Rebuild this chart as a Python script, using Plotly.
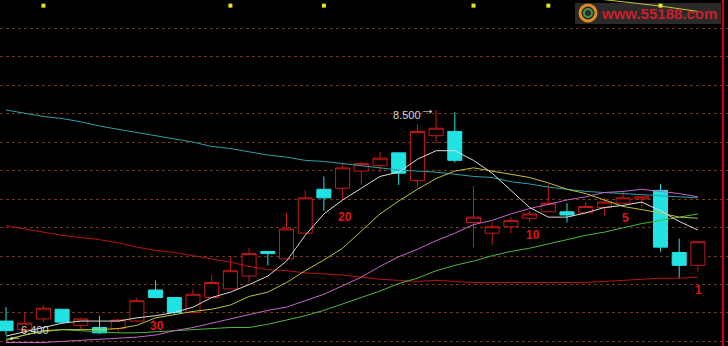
import plotly.graph_objects as go

# ---------------- data ----------------
idx = list(range(1, 39))  # 38 trading days, oldest -> newest

open_ = [6.53, 6.45, 6.55, 6.64, 6.49, 6.47, 6.46, 6.53, 6.82, 6.75,
         6.61, 6.75, 6.83, 6.95, 7.18, 7.11, 7.35, 7.76, 7.77, 7.93,
         7.98, 8.10, 7.84, 8.26, 8.30, 7.45, 7.35, 7.41, 7.49, 7.55,
         7.55, 7.54, 7.59, 7.63, 7.67, 7.75, 7.17, 7.05]
high = [6.66, 6.61, 6.68, 6.64, 6.56, 6.58, 6.55, 6.75, 6.91, 6.75,
        6.83, 6.96, 7.13, 7.21, 7.18, 7.54, 7.75, 7.88, 8.01, 8.02,
        8.11, 8.10, 8.37, 8.50, 8.48, 7.79, 7.45, 7.50, 7.56, 7.80,
        7.63, 7.64, 7.68, 7.74, 7.69, 7.81, 7.30, 7.27]
low = [6.40, 6.42, 6.52, 6.51, 6.45, 6.41, 6.42, 6.52, 6.74, 6.59,
       6.61, 6.75, 6.83, 6.89, 7.05, 7.11, 7.34, 7.56, 7.66, 7.80,
       7.92, 7.80, 7.78, 8.19, 8.01, 7.22, 7.24, 7.35, 7.45, 7.55,
       7.45, 7.54, 7.51, 7.63, 7.59, 7.18, 6.93, 6.99]
close = [6.44, 6.51, 6.65, 6.52, 6.55, 6.42, 6.54, 6.72, 6.75, 6.61,
         6.78, 6.89, 7.00, 7.16, 7.16, 7.39, 7.68, 7.68, 7.96, 8.00,
         8.05, 7.91, 8.30, 8.33, 8.03, 7.50, 7.41, 7.47, 7.53, 7.63,
         7.52, 7.60, 7.64, 7.68, 7.69, 7.22, 7.05, 7.27]

ma5 = [6.39, 6.43, 6.47, 6.51, 6.53, 6.53, 6.53, 6.56, 6.58, 6.61,
       6.66, 6.75, 6.80, 6.87, 6.95, 7.09, 7.33, 7.53, 7.66, 7.77,
       7.88, 7.92, 8.04, 8.12, 8.12, 8.03, 7.91, 7.75, 7.59, 7.50,
       7.50, 7.54, 7.59, 7.61, 7.64, 7.56, 7.46, 7.38]
ma10 = [6.35, 6.40, 6.44, 6.45, 6.45, 6.45, 6.46, 6.49, 6.56, 6.59,
        6.62, 6.64, 6.68, 6.76, 6.80, 6.89, 7.00, 7.10, 7.21, 7.37,
        7.53, 7.65, 7.76, 7.86, 7.93, 7.96, 7.93, 7.90, 7.87, 7.82,
        7.76, 7.72, 7.66, 7.60, 7.57, 7.54, 7.50, 7.49]
ma20 = [6.33, 6.33, 6.33, 6.34, 6.35, 6.36, 6.37, 6.38, 6.40, 6.44,
        6.47, 6.51, 6.55, 6.59, 6.63, 6.66, 6.72, 6.78, 6.86, 6.94,
        7.04, 7.13, 7.20, 7.28, 7.35, 7.43, 7.47, 7.53, 7.58, 7.62,
        7.66, 7.69, 7.73, 7.74, 7.76, 7.74, 7.72, 7.69]
ma60 = [6.36, 6.40, 6.43, 6.45, 6.44, 6.43, 6.42, 6.42, 6.43, 6.44,
        6.45, 6.46, 6.47, 6.47, 6.50, 6.54, 6.58, 6.63, 6.69, 6.75,
        6.81, 6.88, 6.93, 7.00, 7.05, 7.09, 7.14, 7.18, 7.21, 7.25,
        7.29, 7.33, 7.36, 7.40, 7.44, 7.47, 7.50, 7.53]
ma120 = [8.50, 8.47, 8.44, 8.42, 8.39, 8.35, 8.32, 8.29, 8.26, 8.23,
         8.20, 8.16, 8.14, 8.11, 8.08, 8.06, 8.03, 8.02, 8.00, 7.98,
         7.96, 7.94, 7.93, 7.92, 7.90, 7.88, 7.87, 7.83, 7.81, 7.78,
         7.76, 7.74, 7.73, 7.72, 7.71, 7.70, 7.69, 7.68]
ma250 = [7.42, 7.39, 7.36, 7.33, 7.31, 7.29, 7.26, 7.22, 7.19, 7.17,
         7.14, 7.11, 7.08, 7.04, 7.01, 7.00, 6.98, 6.97, 6.96, 6.94,
         6.92, 6.91, 6.90, 6.91, 6.90, 6.89, 6.89, 6.89, 6.89, 6.89,
         6.89, 6.89, 6.90, 6.91, 6.92, 6.93, 6.93, 6.94]

# day counters written under some candles (counted back from the last day)
count_labels = ["30", "20", "10", "5", "1"]
count_idx = [9, 19, 29, 34, 38]

# signal markers in the top strip and the short yellow line up there
signal_idx = [3, 13, 18, 26, 30, 36]
top_line_idx = [33, 36, 38]
top_line_val = [9.53, 9.47, 9.42]

hi_label, lo_label = "8.500", "6.400"

# ---------------- styling ----------------
W, H = 728, 346
Y_MIN, Y_MAX = 6.2973, 9.5267
X_MIN, X_MAX = 0.679, 39.61
RED = "#c81818"
CYAN = "#22e2e2"
FONT = "Liberation Sans, Arial, sans-serif"

fig = go.Figure()

lines = [
    (ma250, "#b81414"),
    (ma120, "#2aa2aa"),
    (ma60, "#4cb83c"),
    (ma20, "#c864c8"),
    (ma10, "#c0c038"),
    (ma5, "#dcdcdc"),
]
for vals, col in lines:
    fig.add_trace(go.Scatter(x=idx, y=vals, mode="lines",
                             line=dict(color=col, width=1),
                             hoverinfo="skip", showlegend=False))

fig.add_trace(go.Candlestick(
    x=idx, open=open_, high=high, low=low, close=close,
    increasing=dict(line=dict(color=RED, width=1), fillcolor="#000000"),
    decreasing=dict(line=dict(color=CYAN, width=1), fillcolor=CYAN),
    whiskerwidth=0, hoverinfo="skip", showlegend=False))

# top strip
fig.add_trace(go.Scatter(x=top_line_idx, y=top_line_val, mode="lines",
                         line=dict(color="#c8c832", width=1),
                         hoverinfo="skip", showlegend=False))
fig.add_trace(go.Scatter(x=signal_idx, y=[9.474] * len(signal_idx), mode="markers",
                         marker=dict(symbol="square", size=4, color="#e8e820"),
                         hoverinfo="skip", showlegend=False))

ann = []
label_offsets = [(1.5, -27), (2, -17), (3, -12), (2, -15), (1, -18)]
for t, i, (dx, dy) in zip(count_labels, count_idx, label_offsets):
    ann.append(dict(x=i, y=low[i - 1], text=t, showarrow=False,
                    xanchor="center", yanchor="middle", xshift=dx, yshift=dy,
                    font=dict(family=FONT, size=12, color="#e01414", weight="bold")))

i_hi = high.index(max(high)) + 1
i_lo = low.index(min(low)) + 1
ann.append(dict(x=i_hi, y=max(high), text=hi_label, showarrow=False,
                xanchor="right", yanchor="middle", xshift=-13, yshift=-5,
                font=dict(family=FONT, size=11, color="#d4d4d4")))
ann.append(dict(x=i_hi, y=max(high), text="→", showarrow=False,
                xanchor="right", yanchor="middle", xshift=1, yshift=2,
                font=dict(family=FONT, size=15, color="#f4f4f4", weight="bold")))
ann.append(dict(x=i_lo, y=min(low), text=lo_label, showarrow=False,
                xanchor="left", yanchor="middle", xshift=13, yshift=5,
                font=dict(family=FONT, size=11, color="#d4d4d4")))
ann.append(dict(x=i_lo, y=min(low), text="←", showarrow=False,
                xanchor="left", yanchor="middle", xshift=-1, yshift=0,
                font=dict(family=FONT, size=15, color="#f4f4f4", weight="bold")))

# logo
ann.append(dict(x=599 / W, y=1 - 13.5 / H, xref="paper", yref="paper",
                text="www.55188.com", showarrow=False, xanchor="left", yanchor="middle",
                font=dict(family=FONT, size=15, color="#c8202a", weight="bold")))

shapes = [
    dict(type="rect", xref="paper", yref="paper", x0=575 / W, x1=721 / W,
         y0=1 - 24 / H, y1=1 - 3 / H, fillcolor="#2a2a2a", line=dict(width=0),
         layer="below"),
    dict(type="circle", xref="paper", yref="paper", x0=580 / W, x1=596 / W,
         y0=1 - 21 / H, y1=1 - 5 / H, line=dict(color="#e08a20", width=3),
         layer="below"),
    dict(type="circle", xref="paper", yref="paper", x0=584 / W, x1=592 / W,
         y0=1 - 17 / H, y1=1 - 9 / H, line=dict(color="#3a9a4a", width=2),
         layer="below"),
    dict(type="line", xref="paper", yref="paper", x0=723 / W, x1=723 / W,
         y0=0, y1=1, line=dict(color="#d80000", width=2)),
]

fig.update_layout(
    width=W, height=H, margin=dict(l=0, r=0, t=0, b=0),
    paper_bgcolor="#000000", plot_bgcolor="#000000",
    showlegend=False, boxgap=0.25, boxgroupgap=0,
    annotations=ann, shapes=shapes,
    xaxis=dict(range=[X_MIN, X_MAX], showgrid=False, zeroline=False,
               showticklabels=False, ticks="", rangeslider=dict(visible=False),
               fixedrange=True),
    yaxis=dict(range=[Y_MIN, Y_MAX], showgrid=True, gridcolor="#6e3c18",
               griddash="dot", gridwidth=1, tick0=Y_MAX, dtick=0.26554,
               zeroline=False, showticklabels=False, ticks="", fixedrange=True),
)

fig.write_html("out.html")
